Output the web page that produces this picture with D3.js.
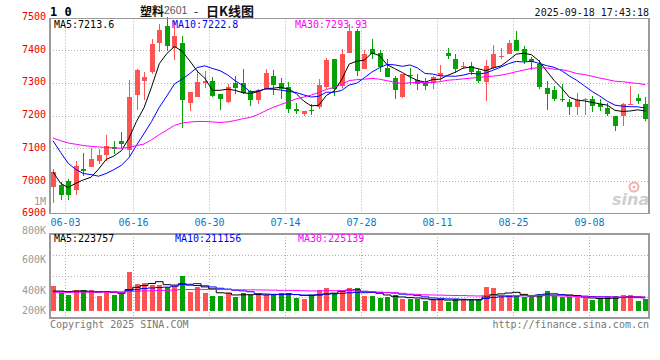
<!DOCTYPE html>
<html><head><meta charset="utf-8">
<script src="https://cdn.jsdelivr.net/npm/d3@7"></script>
<style>body{margin:0;background:#fff}svg{display:block}</style>
</head><body>
<svg id="c" width="660" height="360"></svg>
<script>
// ---------------- DATA ----------------
const dates = ["05-30",
 "06-03","06-04","06-05","06-06","06-09","06-10","06-11","06-12","06-13","06-16","06-17","06-18","06-19","06-20","06-23","06-24","06-25","06-26","06-27","06-30",
 "07-01","07-02","07-03","07-04","07-07","07-08","07-09","07-10","07-11","07-14","07-15","07-16","07-17","07-18","07-21","07-22","07-23","07-24","07-25","07-28","07-29","07-30","07-31",
 "08-01","08-04","08-05","08-06","08-07","08-08","08-11","08-12","08-13","08-14","08-15","08-18","08-19","08-20","08-21","08-22","08-25","08-26","08-27","08-28","08-29",
 "09-01","09-02","09-03","09-04","09-05","09-08","09-09","09-10","09-11","09-12","09-15","09-16","09-17","09-18"];
const opens = [6982,6989,6999,6972,7037,7043,7061,7079,7103,7122, 7094,7262,7306,7332,7420,7472,7405,7421,7239,7258,
 7300,7304,7267,7241,7300,7300,7274,7247,7282,7322, 7298,7286,7221,7205,7218,7226,7287,7371,7290,7390,
 7457,7341,7402,7392,7346,7313,7256,7325,7307,7300, 7300,7320,7392,7374,7350,7351,7336,7302,7346,7378,
 7389,7430,7402,7371,7358,7283,7277,7251,7242,7226, 7246,7249,7236,7223,7200,7198,7232,7252,7236];
const highs = [7038,6997,7007,7060,7086,7101,7099,7140,7122,7150, 7308,7341,7334,7434,7479,7500,7489,7444,7273,7340,
 7336,7318,7267,7295,7322,7341,7278,7282,7343,7338, 7313,7302,7237,7215,7236,7310,7375,7371,7404,7478,
 7463,7399,7433,7399,7371,7320,7328,7346,7326,7315, 7322,7354,7407,7387,7364,7363,7341,7368,7414,7407,
 7430,7458,7412,7379,7368,7305,7290,7295,7249,7269, 7254,7259,7249,7239,7200,7239,7290,7266,7256];
const lows = [6934,6943,6941,6958,7014,7043,7053,7060,7081,7101, 7074,7216,7247,7326,7395,7397,7369,7162,7214,7256,
 7285,7257,7218,7237,7267,7266,7229,7235,7280,7264, 7249,7207,7206,7197,7201,7221,7280,7259,7285,7390,
 7320,7341,7371,7334,7317,7249,7252,7293,7277,7277, 7280,7305,7371,7331,7341,7323,7300,7244,7341,7371,
 7387,7397,7356,7338,7280,7218,7244,7242,7203,7203, 7203,7211,7213,7198,7152,7167,7232,7236,7183];
const closes = [7026,6956,6958,7046,7031,7066,7080,7106,7097,7113, 7256,7339,7317,7418,7461,7413,7444,7247,7271,7301,
 7305,7259,7249,7288,7283,7268,7247,7279,7331,7292, 7282,7219,7214,7215,7216,7292,7369,7280,7387,7457,
 7336,7387,7387,7348,7317,7277,7326,7321,7295,7290, 7317,7331,7382,7341,7352,7334,7305,7351,7387,7381,
 7420,7397,7366,7364,7287,7266,7251,7248,7226,7246, 7251,7229,7226,7206,7167,7234,7236,7244,7188];
const volumes = [407000,286000,258500,341000,341000,341000,247500,313500,258500,275000,
 643500,440000,462000,423500,423500,396000,407000,572000,313500,385000,
 286000,247500,247500,286000,231000,297000,258500,258500,258500,275000,
 297000,286000,214500,192500,258500,341000,368500,286000,330000,368500,
 368500,242000,242000,214500,231000,258500,187000,187000,187000,165000,
 187000,187000,148500,187000,187000,187000,187000,385000,368500,258500,
 258500,242000,220000,220000,269500,330000,247500,231000,220000,220000,
 203500,176000,187000,220000,242000,258500,258500,165000,187000];
// closes / volumes before the first visible day (estimated from where the MA lines start)
const priorCloses = [7190,7175,7160,7150,7140,7135,7145,7150,7141,7180,7175,7167,
 7020,7000,7000,7010,7033,7180,7250,7302,7310,7294,7230,7160,7096,7131,7023,6981,6979];
const priorVolumes = [290000,310000,285000,300000,320000,295000,280000,305000,315000,290000,
 300000,285000,310000,295000,305000,300000,290000,315000,300000,310000,
 280000,300000,295000,310000,318000,292000,300000,305000,321000];
const dateTicks = ["06-03","06-16","06-30","07-14","07-28","08-11","08-25","09-08"];
const priceTicks = [7500,7400,7300,7200,7100,7000,6900];
const volTickLabels = ["800K","600K","400K","200K"];
const maPeriods = [5,10,30];
const priceMaLegend = ["7213.6","7222.8","7293.93"];
const volMaLegend = ["223757","211156","225139"];
const titleName = "塑料", titleCode = "2601", titleKind = "日K线图";
const stamp = "2025-09-18 17:43:18";

// ---------------- LAYOUT / STYLE ----------------
const L = 50, R = 649;
const pTop = 18.5, pBot = 213.5;
const vTop = 234, vBot = 318, vBase = 310.7;
const volLabelY = [230.5, 259.5, 290.5, 310.5];
const RED = "#ff5353", GREEN = "#06a106";
const maColors = ["#000000", "#0000ff", "#ff00ff"];
const MONO = "'DejaVu Sans Mono', 'Liberation Mono', monospace";

const svg = d3.select("#c");
const x = d3.scaleBand().domain(dates).range([49.2, 649.1]).padding(0);
const step = x.step();
const bw = step * 0.72;
const cx = d => x(d) + step / 2;
const y = d3.scaleLinear().domain([6900, 7500]).range([213.75, 17.25]);
const vy = d3.scaleLinear().domain([0, 1265000]).range([vBase, vTop]);

const data = dates.map((d, i) => ({d, o: opens[i], h: highs[i], l: lows[i], c: closes[i], v: volumes[i]}));
function movingAvg(series, prior, n) {
  const all = prior.concat(series);
  return series.map((_, i) => {
    const end = prior.length + i + 1;
    return d3.mean(all.slice(end - n, end));
  });
}

const grid = svg.append("g").attr("stroke", "#b0b0b0").attr("stroke-dasharray", "1,2").attr("stroke-width", 1);
// horizontal price grid
priceTicks.filter(t => t > 6900 && t < 7500).forEach(t => {
  const yy = Math.round(y(t)) + 0.5;
  grid.append("line").attr("x1", L).attr("x2", R).attr("y1", yy).attr("y2", yy);
});
// horizontal volume grid
[1, 2, 3].forEach(k => {
  const yy = Math.round(vTop + k * (vBot - vTop) / 4) + 0.5;
  grid.append("line").attr("x1", L).attr("x2", R).attr("y1", yy).attr("y2", yy);
});
// vertical date grid
const gx = d => Math.round(cx(d) + step * 0.6) + 0.5;
dateTicks.forEach(d => {
  grid.append("line").attr("x1", gx(d)).attr("x2", gx(d)).attr("y1", pTop).attr("y2", pBot);
  grid.append("line").attr("x1", gx(d)).attr("x2", gx(d)).attr("y1", vTop).attr("y2", vBot);
});

// sina watermark
const wm = svg.append("g");
wm.append("circle").attr("cx", 634).attr("cy", 187).attr("r", 4.5).attr("fill", "none").attr("stroke", "#f2b0b0").attr("stroke-width", 2);
wm.append("circle").attr("cx", 634).attr("cy", 187).attr("r", 1.5).attr("fill", "#f2b0b0");
wm.append("text").attr("x", 612).attr("y", 205).attr("font-family", "'DejaVu Sans', sans-serif")
  .attr("font-size", 16).attr("font-style", "italic").attr("font-weight", "bold").attr("fill", "#cfcfcf").text("sina");

// candles
const cg = svg.append("g").attr("shape-rendering", "crispEdges");
data.forEach(k => {
  const col = k.c >= k.o ? RED : GREEN;
  const xc = Math.round(cx(k.d)) + 0.5;
  cg.append("line").attr("x1", xc).attr("x2", xc).attr("y1", y(k.h)).attr("y2", y(k.l)).attr("stroke", col);
  const top = y(Math.max(k.o, k.c)), bot = y(Math.min(k.o, k.c));
  cg.append("rect").attr("x", xc - 0.5 - bw / 2 + 0.5).attr("y", top).attr("width", bw)
    .attr("height", Math.max(1, bot - top)).attr("fill", col);
});

// price MAs
maPeriods.forEach((n, j) => {
  const m = movingAvg(closes, priorCloses, n);
  svg.append("path").datum(m).attr("fill", "none").attr("stroke", maColors[j]).attr("stroke-width", 1)
    .attr("d", d3.line().x((v, i) => cx(dates[i])).y(v => y(v)));
});

// volume bars
const vg = svg.append("g").attr("shape-rendering", "crispEdges");
data.forEach(k => {
  const col = k.c >= k.o ? RED : GREEN;
  const xc = Math.round(cx(k.d)) + 0.5;
  vg.append("rect").attr("x", xc - bw / 2).attr("y", vy(k.v)).attr("width", bw)
    .attr("height", vy(0) - vy(k.v)).attr("fill", col);
});
maPeriods.forEach((n, j) => {
  const m = movingAvg(volumes, priorVolumes, n);
  svg.append("path").datum(m).attr("fill", "none").attr("stroke", maColors[j]).attr("stroke-width", 1)
    .attr("d", d3.line().x((v, i) => cx(dates[i])).y(v => vy(v)).curve(d3.curveStep));
});

// frames
const fr = svg.append("g").attr("fill", "none").attr("stroke", "#9a9a9a").attr("shape-rendering", "crispEdges");
fr.append("rect").attr("x", L).attr("y", pTop).attr("width", R - L).attr("height", pBot - pTop).attr("stroke-width", 1.5);
fr.append("rect").attr("x", L).attr("y", vTop).attr("width", R - L).attr("height", vBot - vTop).attr("stroke-width", 1.5);

// price axis labels
const tg = svg.append("g").attr("font-family", MONO).attr("font-size", 10);
priceTicks.forEach(t => {
  tg.append("text").attr("x", 46).attr("y", y(t) - 1).attr("dominant-baseline", "central")
    .attr("text-anchor", "end").attr("fill", "#ee0000").text(t);
});
tg.append("text").attr("x", 46).attr("y", 201).attr("dominant-baseline", "central")
  .attr("text-anchor", "end").attr("fill", "#999").text("1M");
volTickLabels.forEach((t, i) => {
  tg.append("text").attr("x", 46).attr("y", volLabelY[i]).attr("dominant-baseline", "central")
    .attr("text-anchor", "end").attr("fill", "#9a9a9a").text(t);
});
// date labels
dateTicks.forEach(d => {
  tg.append("text").attr("x", gx(d)).attr("y", 222).attr("dominant-baseline", "central")
    .attr("text-anchor", "middle").attr("fill", "#0a78c8").text(d);
});
// legends
const legX = [54, 172, 295];
maPeriods.forEach((n, j) => {
  tg.append("text").attr("x", legX[j]).attr("y", 24).attr("dominant-baseline", "central")
    .attr("fill", maColors[j]).text("MA" + n + ":" + priceMaLegend[j]);
  tg.append("text").attr("x", legX[j] + (j ? 3 : 0)).attr("y", 238.5).attr("dominant-baseline", "central")
    .attr("fill", maColors[j]).text("MA" + n + ":" + volMaLegend[j]);
});
// header
tg.append("text").attr("x", 50).attr("y", 12).attr("dominant-baseline", "central")
  .attr("font-size", 12).attr("font-weight", "bold").attr("fill", "#000").text("1 0");
const title = svg.append("text").attr("y", 10).attr("dominant-baseline", "central");
title.append("tspan").attr("x", 140).attr("font-family", "'Noto Sans CJK SC', sans-serif")
  .attr("font-size", 12).attr("font-weight", "bold").attr("fill", "#111").text(titleName);
title.append("tspan").attr("x", 164).attr("font-family", "'Liberation Sans', Arial, sans-serif")
  .attr("font-size", 10.5).attr("fill", "#555").text(titleCode);
title.append("tspan").attr("x", 194).attr("font-family", "'Noto Sans CJK SC', sans-serif")
  .attr("font-size", 12).attr("fill", "#111").text("-");
title.append("tspan").attr("x", 206).attr("font-family", "'Noto Sans CJK SC', sans-serif")
  .attr("font-size", 13).attr("font-weight", "bold").attr("fill", "#111").text(titleKind);
tg.append("text").attr("x", 649).attr("y", 12).attr("dominant-baseline", "central")
  .attr("text-anchor", "end").attr("fill", "#111").text(stamp);
// footer
tg.append("text").attr("x", 50).attr("y", 324).attr("dominant-baseline", "central")
  .attr("fill", "#777").text("Copyright 2025 SINA.COM");
tg.append("text").attr("x", 649).attr("y", 324).attr("dominant-baseline", "central")
  .attr("text-anchor", "end").attr("fill", "#777").text("http://finance.sina.com.cn");
</script>
</body></html>
